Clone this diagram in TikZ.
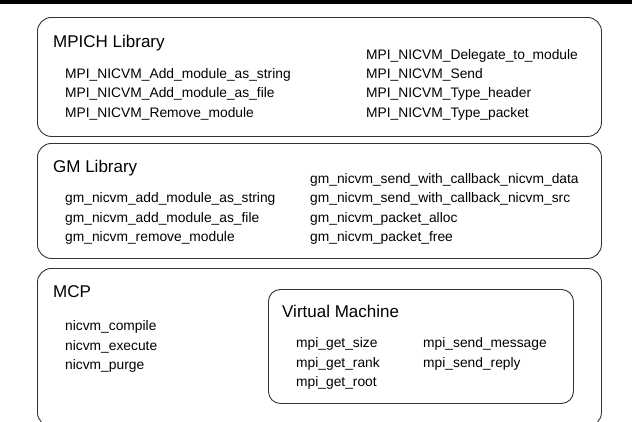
\documentclass[tikz,border=0pt]{standalone}
\usepackage{fontspec}
\setmainfont{Liberation Sans}
\usetikzlibrary{positioning}
\tikzset{
  layer/.style = {rectangle, rounded corners=14pt, draw=black!80, line width=0.9pt,
                  anchor=north west, inner sep=0pt},
  vmbox/.style = {rectangle, rounded corners=12pt, draw=black!80, line width=0.9pt,
                  anchor=north west, inner sep=0pt},
}

\begin{document}
\begin{tikzpicture}[x=1pt, y=-1pt,
  heading/.style = {anchor=base west, inner sep=0pt, font=\fontsize{17}{20}\selectfont},
  item/.style = {anchor=base west, inner sep=0pt, font=\fontsize{13.8}{17}\selectfont},
]
\clip (0,0) rectangle (632,421);
\fill[black] (0,0) rectangle (632,4);

% Layers
\node[layer, minimum width=564pt, minimum height=119pt] (mpich) at (37,17) {};
\node[layer, minimum width=564pt, minimum height=115pt] (gm) at (37,143) {};
\node[layer, minimum width=564pt, minimum height=158pt] (mcp) at (37,268) {};
\node[vmbox, minimum width=305pt, minimum height=114pt] (vm) at (268,289) {};

% MPICH Library
\node[heading] (mpichT) at (53,47) {MPICH Library};
\node[item] (mpichL1) at (65,78)  {MPI\_NICVM\_Add\_module\_as\_string};
\node[item] (mpichL2) at (65,97)  {MPI\_NICVM\_Add\_module\_as\_file};
\node[item] (mpichL3) at (65,117) {MPI\_NICVM\_Remove\_module};
\node[item] (mpichR1) at (366,59)  {MPI\_NICVM\_Delegate\_to\_module};
\node[item] (mpichR2) at (366,78)  {MPI\_NICVM\_Send};
\node[item] (mpichR3) at (366,97)  {MPI\_NICVM\_Type\_header};
\node[item] (mpichR4) at (366,117) {MPI\_NICVM\_Type\_packet};

% GM Library
\node[heading] (gmT) at (53,172) {GM Library};
\node[item] (gmL1) at (65,202) {gm\_nicvm\_add\_module\_as\_string};
\node[item] (gmL2) at (65,222) {gm\_nicvm\_add\_module\_as\_file};
\node[item] (gmL3) at (65,241) {gm\_nicvm\_remove\_module};
\node[item] (gmR1) at (310,183) {gm\_nicvm\_send\_with\_callback\_nicvm\_data};
\node[item] (gmR2) at (310,202) {gm\_nicvm\_send\_with\_callback\_nicvm\_src};
\node[item] (gmR3) at (310,222) {gm\_nicvm\_packet\_alloc};
\node[item] (gmR4) at (310,241) {gm\_nicvm\_packet\_free};

% MCP
\node[heading] (mcpT) at (53,297) {MCP};
\node[item] (mcpL1) at (65,330) {nicvm\_compile};
\node[item] (mcpL2) at (65,350) {nicvm\_execute};
\node[item] (mcpL3) at (65,369) {nicvm\_purge};

% Virtual Machine
\node[heading] (vmT) at (282,317) {Virtual Machine};
\node[item] (vmL1) at (296,347) {mpi\_get\_size};
\node[item] (vmL2) at (296,367) {mpi\_get\_rank};
\node[item] (vmL3) at (296,386) {mpi\_get\_root};
\node[item] (vmR1) at (423,347) {mpi\_send\_message};
\node[item] (vmR2) at (423,367) {mpi\_send\_reply};
\end{tikzpicture}
\end{document}
